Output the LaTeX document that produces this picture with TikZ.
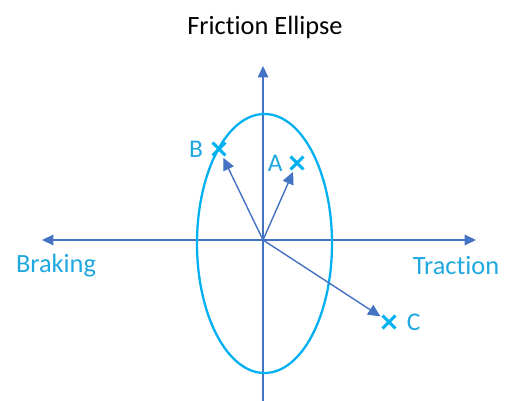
\documentclass[tikz,border=0pt]{standalone}
\usepackage{fontspec}
\setmainfont{Carlito}[Ligatures=NoCommon]
\usetikzlibrary{arrows.meta,shapes.misc,positioning}
\definecolor{axisblue}{HTML}{4472C4}
\definecolor{ellipsecyan}{HTML}{00B0F0}
\definecolor{labelcyan}{HTML}{1FA8E0}
\tikzset{
  axis/.style={{Triangle[length=6.5pt,width=6pt]}-{Triangle[length=6.5pt,width=6pt]},line width=0.8pt,draw=axisblue},
  oneway/.style={-{Triangle[length=6.5pt,width=6pt]},line width=0.8pt,draw=axisblue},
  vector/.style={-{Triangle[length=7pt,width=6.5pt]},line width=0.8pt,draw=axisblue,shorten >=1.5pt},
  xmark/.style={cross out,draw=ellipsecyan,line width=1.8pt,minimum size=5.5pt,inner sep=0pt},
  axislabel/.style={text=labelcyan,font=\fontsize{15}{18}\selectfont},
  pointlabel/.style={text=labelcyan,font=\fontsize{14.5}{17}\selectfont}
}

\begin{document}
\begin{tikzpicture}[x=0.02cm,y=-0.02cm]
  \useasboundingbox (0,0) rectangle (506,401);
  % title
  \node[font=\fontsize{15}{18}\selectfont] (title) at (265,27) {Friction Ellipse};
  % axes
  \coordinate (origin) at (263,240);
  \coordinate (west) at (42,240);
  \coordinate (east) at (476,240);
  \coordinate (north) at (263,66);
  \coordinate (south) at (263,401);
  \draw[axis] (west) -- (east);
  \draw[oneway] (south) -- (north);
  % friction ellipse
  \draw[ellipsecyan,line width=1.3pt] (264.5,243.5) ellipse [x radius=67.5,y radius=129.5];
  \node[axislabel] (braking) at (56,266) {Braking};
  \node[axislabel] (traction) at (456,266) {Traction};
  % operating points
  \node[xmark] (ptA) at (297,163) {};
  \node[xmark] (ptB) at (219,149) {};
  \node[xmark] (ptC) at (389,322) {};
  \node[pointlabel,left=1pt of ptA] (labA) {A};
  \node[pointlabel,left=2pt of ptB] (labB) {B};
  \node[pointlabel,right=3pt of ptC] (labC) {C};
  \draw[vector] (origin) -- (ptA);
  \draw[vector] (origin) -- (ptB);
  \draw[vector] (origin) -- (ptC);
\end{tikzpicture}
\end{document}
